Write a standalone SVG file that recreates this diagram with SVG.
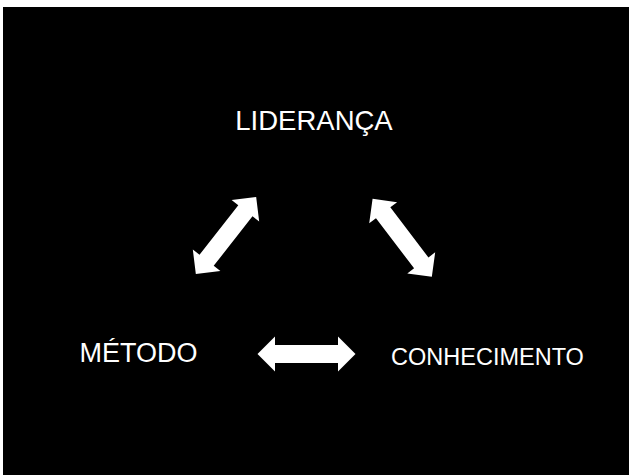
<svg xmlns="http://www.w3.org/2000/svg" width="629" height="475" viewBox="0 0 629 475">
<style>
.lbl{font-family:"Liberation Sans",Arial,sans-serif;fill:#ffffff;text-anchor:middle}
.arr{fill:#ffffff}
</style>
<defs>
<path id="dbl" d="M -49 0 L -31.5 -17.5 L -31.5 -9 L 31.5 -9 L 31.5 -17.5 L 49 0 L 31.5 17.5 L 31.5 9 L -31.5 9 L -31.5 17.5 Z"/>
</defs>
<rect x="0" y="0" width="629" height="475" fill="#ffffff"/>
<rect x="3" y="7" width="626" height="468" fill="#000000"/>
<g id="lideranca"><text class="lbl" x="314" y="130" font-size="27.5">LIDERANÇA</text></g>
<g id="metodo"><text class="lbl" x="138.5" y="362" font-size="27">MÉTODO</text></g>
<g id="conhecimento"><text class="lbl" x="487.5" y="365" font-size="23.5">CONHECIMENTO</text></g>
<g id="connectors">
<use href="#dbl" class="arr" transform="translate(226 235.5) rotate(-52)"/>
<use href="#dbl" class="arr" transform="translate(402.2 237.8) rotate(52.8)"/>
<use href="#dbl" class="arr" transform="translate(306.5 354)"/>
</g>
</svg>
